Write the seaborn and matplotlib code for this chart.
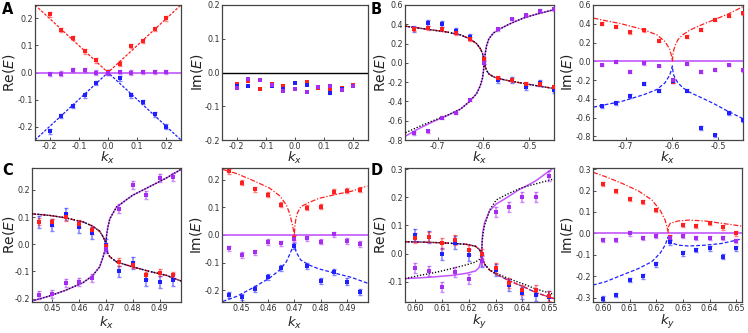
import matplotlib
matplotlib.use("Agg")
import matplotlib.pyplot as plt
import seaborn as sns
from matplotlib.ticker import FixedLocator, FormatStrFormatter

sns.set_theme(style="white")
plt.rcParams["font.family"] = ["DejaVu Sans"]
plt.rcParams["mathtext.fontset"] = "dejavusans"

RED = "#ff1f1f"
BLUE = "#2020ff"
MAG = "#a52cf0"
MAGLINE = "#c455ff"

# ---------------- Panel A ----------------
A_k = [-0.20, -0.16, -0.12, -0.08, -0.04, 0.00, 0.04, 0.08, 0.12, 0.16, 0.20]
A_re_red = [0.215, 0.158, 0.128, 0.078, 0.045, 0.003, 0.033, 0.097, 0.117, 0.160, 0.200]
A_re_blue = [-0.218, -0.162, -0.123, -0.085, -0.040, 0.000, -0.022, -0.085, -0.108, -0.155, -0.200]
A_re_mag = [-0.006, -0.004, 0.010, 0.010, 0.000, 0.000, 0.003, 0.000, 0.002, 0.003, 0.002]
A_im_red = [-0.035, -0.025, -0.048, -0.035, -0.040, -0.032, -0.028, -0.045, -0.050, -0.045, -0.038]
A_im_blue = [-0.040, -0.040, -0.022, -0.040, -0.048, -0.030, -0.038, -0.043, -0.060, -0.048, -0.040]
A_im_mag = [-0.045, -0.020, -0.022, -0.038, -0.055, -0.048, -0.058, -0.042, -0.040, -0.052, -0.040]
A_re_err = [0.008, 0.008, 0.008]
A_th_k = [-0.25, 0.0, 0.25]
A_th_red = [0.25, 0.0, 0.25]
A_th_blue = [-0.25, 0.0, -0.25]
A_th_zero = [0.0, 0.0, 0.0]

# ---------------- Panel B ----------------
B_k = [-0.752, -0.721, -0.690, -0.660, -0.629, -0.598, -0.568, -0.537, -0.506, -0.476, -0.446]
B_re_red = [0.35, 0.36, 0.35, 0.31, 0.245, 0.04, -0.16, -0.175, -0.22, -0.22, -0.25]
B_re_blue = [0.35, 0.41, 0.40, 0.335, 0.27, 0.015, -0.175, -0.18, -0.25, -0.21, -0.28]
B_re_mag = [-0.73, -0.71, -0.57, -0.52, -0.38, 0.0, 0.35, 0.455, 0.495, 0.54, 0.555]
B_im_red = [0.40, 0.37, 0.31, 0.33, 0.22, -0.22, 0.26, 0.335, 0.445, 0.485, 0.51]
B_im_blue = [-0.48, -0.445, -0.37, -0.24, -0.315, -0.21, -0.315, -0.71, -0.79, -0.55, -0.63]
B_im_mag = [-0.04, -0.005, -0.11, -0.02, -0.05, -0.20, -0.03, -0.11, -0.09, -0.04, -0.095]
B_re_err = [0.02, 0.03, 0.015]
B_im_err = [0.015, 0.018, 0.015]
B_re_th_k = [-0.770, -0.740, -0.710, -0.680, -0.650, -0.630, -0.615, -0.607, -0.602, -0.600,
             -0.598, -0.596, -0.593, -0.588, -0.578, -0.565, -0.540, -0.510, -0.480, -0.447]
B_re_th_up = [0.38, 0.36, 0.34, 0.32, 0.29, 0.25, 0.20, 0.15, 0.10, 0.06,
              0.01, -0.04, -0.08, -0.115, -0.145, -0.165, -0.19, -0.215, -0.24, -0.265]
B_re_th_mag = [-0.76, -0.68, -0.61, -0.55, -0.48, -0.40, -0.32, -0.24, -0.16, -0.09,
               0.01, 0.10, 0.18, 0.25, 0.31, 0.35, 0.41, 0.47, 0.51, 0.55]
B_re_th_dot = [-0.725, -0.66, -0.60, -0.545, -0.48, -0.40, -0.32, -0.24, -0.16, -0.09,
               0.01, 0.10, 0.18, 0.25, 0.31, 0.35, 0.41, 0.47, 0.51, 0.55]
B_im_th_k = [-0.770, -0.741, -0.710, -0.690, -0.660, -0.632, -0.615, -0.605, -0.601, -0.599,
             -0.598, -0.596, -0.592, -0.587, -0.577, -0.562, -0.540, -0.510, -0.480, -0.447]
B_im_th_red = [0.46, 0.43, 0.40, 0.375, 0.335, 0.28, 0.21, 0.13, 0.06, 0.0,
               0.07, 0.12, 0.18, 0.23, 0.28, 0.33, 0.38, 0.44, 0.50, 0.58]
B_im_th_blue = [-0.49, -0.46, -0.43, -0.40, -0.355, -0.30, -0.23, -0.15, -0.09, -0.05,
                -0.10, -0.15, -0.19, -0.23, -0.28, -0.33, -0.38, -0.45, -0.53, -0.61]

# ---------------- Panel C ----------------
C_k = [0.445, 0.450, 0.455, 0.460, 0.465, 0.470, 0.475, 0.480, 0.485, 0.490, 0.495]
C_re_red = [0.082, 0.080, 0.100, 0.076, 0.052, -0.007, -0.065, -0.075, -0.114, -0.104, -0.114]
C_re_blue = [0.082, 0.072, 0.110, 0.064, 0.040, -0.004, -0.100, -0.070, -0.132, -0.138, -0.132]
C_re_mag = [-0.187, -0.183, -0.142, -0.140, -0.124, -0.016, 0.131, 0.217, 0.182, 0.243, 0.247]
C_im_red = [0.230, 0.189, 0.165, 0.146, 0.110, -0.010, 0.098, 0.102, 0.156, 0.160, 0.164]
C_im_blue = [-0.218, -0.225, -0.195, -0.152, -0.120, -0.040, -0.111, -0.165, -0.134, -0.168, -0.206]
C_im_mag = [-0.048, -0.072, -0.063, -0.026, -0.030, -0.014, -0.012, -0.024, 0.002, -0.022, -0.032]
C_re_err = [0.013, 0.022, 0.015]
C_im_err = [0.009, 0.011, 0.010]
C_re_th_k = [0.4423, 0.449, 0.455, 0.4615, 0.465, 0.4677, 0.469, 0.4697, 0.470,
             0.4703, 0.4708, 0.4715, 0.474, 0.480, 0.486, 0.4925, 0.498]
C_re_th_up = [0.112, 0.106, 0.097, 0.082, 0.067, 0.048, 0.027, 0.012, 0.0,
              -0.02, -0.035, -0.046, -0.065, -0.083, -0.099, -0.114, -0.135]
C_re_th_mag = [-0.209, -0.19, -0.169, -0.141, -0.116, -0.083, -0.046, -0.02, 0.0,
               0.035, 0.065, 0.094, 0.137, 0.18, 0.21, 0.243, 0.275]
C_im_th_k = [0.4428, 0.448, 0.454, 0.4605, 0.4645, 0.467, 0.4683, 0.4693, 0.4698, 0.470,
             0.4702, 0.4706, 0.4712, 0.4724, 0.4755, 0.4792, 0.4855, 0.4917, 0.4978]
C_im_th_red = [0.237, 0.222, 0.198, 0.17, 0.141, 0.108, 0.075, 0.035, 0.012, 0.0,
               0.03, 0.06, 0.08, 0.102, 0.117, 0.132, 0.146, 0.158, 0.177]
C_im_th_blue = [-0.24, -0.222, -0.192, -0.156, -0.126, -0.096, -0.068, -0.046, -0.038, -0.036,
                -0.046, -0.058, -0.07, -0.09, -0.108, -0.122, -0.138, -0.153, -0.174]

# ---------------- Panel D ----------------
D_k = [0.600, 0.605, 0.610, 0.615, 0.620, 0.625, 0.630, 0.635, 0.640, 0.645, 0.650]
D_re_red = [0.055, 0.059, 0.036, 0.047, 0.012, 0.000, -0.050, -0.103, -0.130, -0.130, -0.150]
D_re_blue = [0.066, 0.059, -0.002, 0.039, -0.005, -0.026, -0.059, -0.112, -0.139, -0.147, -0.154]
D_re_mag = [-0.050, -0.062, -0.119, -0.064, -0.091, -0.026, 0.148, 0.166, 0.200, 0.200, 0.277]
D_im_red = [0.229, 0.198, 0.160, 0.145, 0.109, -0.016, 0.039, 0.034, 0.047, 0.028, 0.000]
D_im_blue = [-0.304, -0.288, -0.218, -0.200, -0.145, -0.042, -0.093, -0.078, -0.070, -0.109, -0.070]
D_im_mag = [-0.031, -0.031, 0.000, -0.020, -0.011, -0.023, -0.011, -0.023, -0.023, -0.020, -0.036]
D_re_err = [0.018, 0.022, 0.018]
D_im_err = [0.010, 0.011, 0.010]
D_re_th_k = [0.5962, 0.602, 0.608, 0.6142, 0.6191, 0.6225, 0.6238, 0.6245, 0.6248, 0.6250,
             0.6253, 0.6259, 0.6278, 0.6302, 0.6327, 0.6352, 0.6389, 0.6401, 0.6451, 0.6518]
D_re_th_up = [0.042, 0.041, 0.039, 0.036, 0.033, 0.026, 0.016, 0.006, 0.0, -0.01,
              -0.022, -0.038, -0.059, -0.074, -0.085, -0.097, -0.112, -0.116, -0.139, -0.16]
D_re_th_updot = [0.042, 0.041, 0.039, 0.036, 0.033, 0.026, 0.016, 0.006, 0.0, -0.01,
                 -0.022, -0.038, -0.058, -0.07, -0.08, -0.09, -0.103, -0.107, -0.126, -0.145]
D_re_th_mag = [-0.089, -0.086, -0.082, -0.077, -0.07, -0.062, -0.05, -0.03, 0.0, 0.05,
               0.08, 0.11, 0.152, 0.176, 0.19, 0.205, 0.228, 0.233, 0.259, 0.306]
D_re_th_lowdot = [-0.089, -0.077, -0.066, -0.052, -0.04, -0.03, -0.022, -0.012, 0.0, 0.04,
                  0.07, 0.10, 0.155, 0.19, 0.203, 0.215, 0.23, 0.235, 0.248, 0.265]
D_im_th_k = [0.5962, 0.6008, 0.607, 0.6133, 0.6183, 0.6214, 0.6233, 0.6242, 0.6245,
             0.6245, 0.6252, 0.6283, 0.6321, 0.6383, 0.6446, 0.6521]
D_im_th_red = [0.285, 0.265, 0.234, 0.198, 0.156, 0.109, 0.062, 0.02, 0.005,
               0.03, 0.047, 0.058, 0.062, 0.058, 0.047, 0.034]
D_im_th_blue = [-0.241, -0.226, -0.195, -0.164, -0.132, -0.093, -0.055, -0.025, -0.016,
                -0.03, -0.042, -0.055, -0.059, -0.055, -0.047, -0.026]

# ---------------- helpers ----------------
W, H = 748, 333
fig = plt.figure(figsize=(W / 100, H / 100), dpi=100)


def px_axes(l, r, t, b):
    ax = fig.add_axes([l / W, 1 - b / H, (r - l) / W, (b - t) / H])
    ax._px = (l, r, t, b)
    return ax


DASHDOT = (0, (4.0, 1.4, 1.0, 1.4))
DASHED = (0, (3.0, 1.6))
DOTTED = (0, (0.9, 1.3))
FINEDASH = (0, (2.2, 1.2))


def curve(ax, k, e, color, ls="-", lw=0.9, z=2):
    sns.lineplot(x=k, y=e, ax=ax, sort=False, estimator=None, color=color,
                 linestyle=ls, linewidth=lw, zorder=z)


def points(ax, k, e, err, color, ms=7):
    if err > 0:
        ax.errorbar(k, e, yerr=[err] * len(k), fmt="none", ecolor=color, alpha=0.55,
                    elinewidth=1.1, capsize=1.6, capthick=1.0, zorder=4)
    sns.scatterplot(x=k, y=e, ax=ax, color=color, marker="s", s=ms, linewidth=0,
                    zorder=5)


def style(ax, xlim, ylim, xt, yt, xfmt, yfmt, xlabel, ylabel, ylab_x, xlab_y):
    ax.set_xlim(*xlim)
    ax.set_ylim(*ylim)
    ax.xaxis.set_major_locator(FixedLocator(xt))
    ax.yaxis.set_major_locator(FixedLocator(yt))
    ax.xaxis.set_major_formatter(FormatStrFormatter(xfmt))
    ax.yaxis.set_major_formatter(FormatStrFormatter(yfmt))
    ax.tick_params(direction="in", length=2.2, width=0.6, labelsize=5.8,
                   colors="#333333", pad=1.4, left=True, bottom=True)
    for s in ax.spines.values():
        s.set_color("#444444")
        s.set_linewidth(0.9)
    ax.set_xlabel(xlabel, fontsize=9.5, color="#222222")
    ax.set_ylabel(ylabel, fontsize=10, color="#222222")
    l, r, t, b = ax._px
    ax.yaxis.label.set(va="center", ha="center")
    ax.xaxis.label.set(va="center", ha="center")
    ax.yaxis.set_label_coords((ylab_x - l) / (r - l), 0.5)
    ax.xaxis.set_label_coords(0.5, (b - xlab_y) / (b - t))
    ax.set_facecolor("white")


re_lab = "Re($E$)"
im_lab = "Im($E$)"

# ---------------- A ----------------
ax = px_axes(35, 181, 5, 140)
curve(ax, A_th_k, A_th_zero, MAGLINE, "-", 1.2)
curve(ax, A_th_k, A_th_red, RED, FINEDASH, 0.9)
curve(ax, A_th_k, A_th_blue, BLUE, FINEDASH, 0.9)
points(ax, A_k, A_re_red, A_re_err[0], RED)
points(ax, A_k, A_re_blue, A_re_err[1], BLUE)
points(ax, A_k, A_re_mag, A_re_err[2], MAG)
style(ax, (-0.25, 0.25), (-0.25, 0.25), [-0.2, -0.1, 0.0, 0.1, 0.2],
      [-0.2, -0.1, 0.0, 0.1, 0.2], "%.1f", "%.1f", "$k_x$", re_lab, 9, 158)

ax = px_axes(222, 368, 5, 140)
curve(ax, A_th_k, A_th_zero, "black", "-", 1.0)
points(ax, A_k, A_im_red, 0, RED, 9)
points(ax, A_k, A_im_blue, 0, BLUE, 9)
points(ax, A_k, A_im_mag, 0, MAG, 9)
style(ax, (-0.25, 0.25), (-0.2, 0.2), [-0.2, -0.1, 0.0, 0.1, 0.2],
      [-0.2, -0.1, 0.0, 0.1, 0.2], "%.1f", "%.1f", "$k_x$", im_lab, 197, 158)

# ---------------- B ----------------
ax = px_axes(405, 554, 5, 140)
curve(ax, B_re_th_k, B_re_th_mag, MAGLINE, "-", 1.1)
curve(ax, B_re_th_k, B_re_th_up, BLUE, DASHED, 0.9)
curve(ax, B_re_th_k, B_re_th_up, RED, DASHDOT, 0.9)
curve(ax, B_re_th_k, B_re_th_up, "black", DOTTED, 1.0, 3)
curve(ax, B_re_th_k, B_re_th_dot, "black", DOTTED, 1.0, 3)
points(ax, B_k, B_re_blue, B_re_err[1], BLUE)
points(ax, B_k, B_re_red, B_re_err[0], RED)
points(ax, B_k, B_re_mag, B_re_err[2], MAG)
style(ax, (-0.771, -0.446), (-0.8, 0.6), [-0.7, -0.6, -0.5],
      [-0.8, -0.6, -0.4, -0.2, 0.0, 0.2, 0.4, 0.6], "%.1f", "%.1f", "$k_x$", re_lab,
      380, 158)

ax = px_axes(593, 743, 5, 140)
curve(ax, [-0.771, -0.446], [0.0, 0.0], MAGLINE, "-", 1.2)
curve(ax, B_im_th_k, B_im_th_red, RED, DASHDOT, 0.9)
curve(ax, B_im_th_k, B_im_th_blue, BLUE, DASHED, 0.9)
points(ax, B_k, B_im_red, B_im_err[0], RED)
points(ax, B_k, B_im_blue, B_im_err[1], BLUE)
points(ax, B_k, B_im_mag, B_im_err[2], MAG)
style(ax, (-0.771, -0.446), (-0.84, 0.6), [-0.7, -0.6, -0.5],
      [-0.8, -0.6, -0.4, -0.2, 0.0, 0.2, 0.4, 0.6], "%.1f", "%.1f", "$k_x$", im_lab,
      567, 158)

# ---------------- C ----------------
ax = px_axes(32, 181, 168, 302)
curve(ax, C_re_th_k, C_re_th_mag, MAGLINE, "-", 1.1)
curve(ax, C_re_th_k, C_re_th_up, BLUE, DASHED, 0.9)
curve(ax, C_re_th_k, C_re_th_up, RED, DASHDOT, 0.9)
curve(ax, C_re_th_k, C_re_th_up, "black", DOTTED, 1.0, 3)
curve(ax, C_re_th_k, C_re_th_mag, "black", DOTTED, 1.0, 3)
points(ax, C_k, C_re_blue, C_re_err[1], BLUE)
points(ax, C_k, C_re_red, C_re_err[0], RED)
points(ax, C_k, C_re_mag, C_re_err[2], MAG)
style(ax, (0.4425, 0.498), (-0.212, 0.28), [0.45, 0.46, 0.47, 0.48, 0.49],
      [-0.2, -0.1, 0.0, 0.1, 0.2], "%.2f", "%.1f", "$k_x$", re_lab, 9, 323)

ax = px_axes(222, 368, 168, 302)
curve(ax, [0.4425, 0.498], [0.0, 0.0], MAGLINE, "-", 1.2)
curve(ax, C_im_th_k, C_im_th_red, RED, DASHDOT, 0.9)
curve(ax, C_im_th_k, C_im_th_blue, BLUE, DASHED, 0.9)
points(ax, C_k, C_im_red, C_im_err[0], RED)
points(ax, C_k, C_im_blue, C_im_err[1], BLUE)
points(ax, C_k, C_im_mag, C_im_err[2], MAG)
style(ax, (0.4425, 0.498), (-0.242, 0.242), [0.45, 0.46, 0.47, 0.48, 0.49],
      [-0.2, -0.1, 0.0, 0.1, 0.2], "%.2f", "%.1f", "$k_x$", im_lab, 196, 323)

# ---------------- D ----------------
ax = px_axes(405, 554, 168, 302)
curve(ax, D_re_th_k, D_re_th_mag, MAGLINE, "-", 1.1)
curve(ax, D_re_th_k, D_re_th_up, BLUE, DASHED, 0.9)
curve(ax, D_re_th_k, D_re_th_up, RED, DASHDOT, 0.9)
curve(ax, D_re_th_k, D_re_th_updot, "black", DOTTED, 1.0, 3)
curve(ax, D_re_th_k, D_re_th_lowdot, "black", DOTTED, 1.0, 3)
points(ax, D_k, D_re_blue, D_re_err[1], BLUE)
points(ax, D_k, D_re_red, D_re_err[0], RED)
points(ax, D_k, D_re_mag, D_re_err[2], MAG)
style(ax, (0.5962, 0.6518), (-0.172, 0.304), [0.60, 0.61, 0.62, 0.63, 0.64, 0.65],
      [-0.1, 0.0, 0.1, 0.2, 0.3], "%.2f", "%.1f", "$k_y$", re_lab, 380, 322)

ax = px_axes(593, 742, 168, 302)
curve(ax, [0.5962, 0.6522], [0.0, 0.0], MAGLINE, "-", 1.2)
curve(ax, D_im_th_k, D_im_th_red, RED, DASHDOT, 0.9)
curve(ax, D_im_th_k, D_im_th_blue, BLUE, DASHED, 0.9)
points(ax, D_k, D_im_red, D_im_err[0], RED)
points(ax, D_k, D_im_blue, D_im_err[1], BLUE)
points(ax, D_k, D_im_mag, D_im_err[2], MAG)
style(ax, (0.5962, 0.6522), (-0.32, 0.305), [0.60, 0.61, 0.62, 0.63, 0.64, 0.65],
      [-0.3, -0.2, -0.1, 0.0, 0.1, 0.2, 0.3], "%.2f", "%.1f", "$k_y$", im_lab, 567, 322)

# panel letters
for lab, x, y in [("A", 2, 2), ("B", 371, 2), ("C", 2, 163), ("D", 371, 163)]:
    fig.text(x / W, 1 - y / H, lab, fontsize=10.5, fontweight="bold", va="top",
             ha="left", color="black")

fig.savefig("out.png", dpi=100, facecolor="white")
